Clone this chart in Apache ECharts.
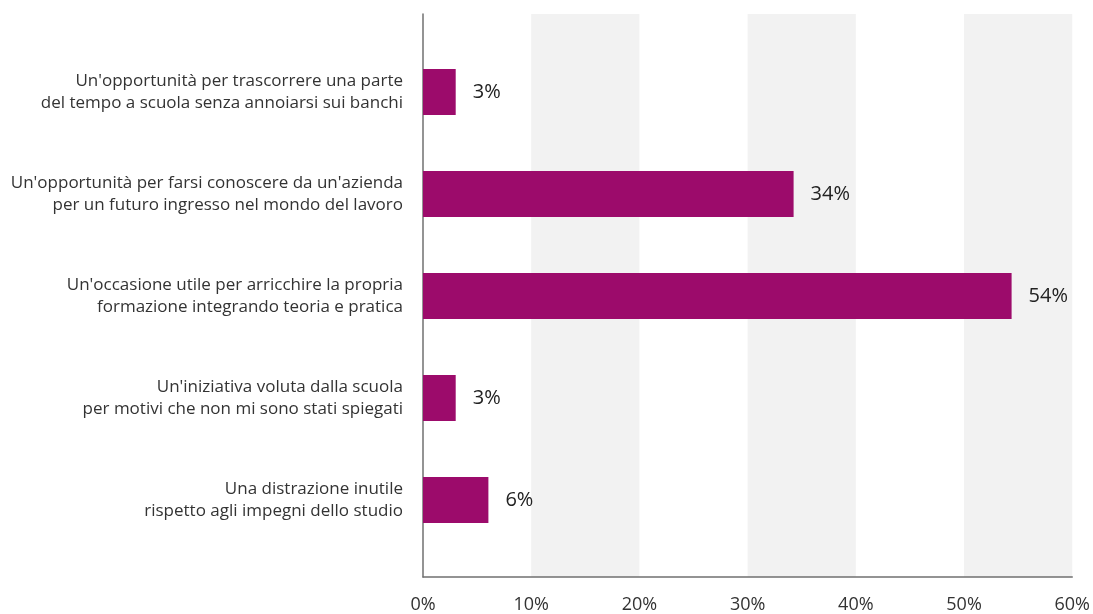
<!DOCTYPE html>
<html>
<head>
<meta charset="utf-8">
<script src="https://cdn.jsdelivr.net/npm/echarts@6/dist/echarts.min.js"></script>
<style>
  html, body { margin: 0; padding: 0; background: #fff; }
  #chart { width: 1093px; height: 614px; }
</style>
</head>
<body>
<div id="chart"></div>
<script>
// Answer options, top to bottom
const categories = [
  "Un'opportunità per trascorrere una parte\ndel tempo a scuola senza annoiarsi sui banchi",
  "Un'opportunità per farsi conoscere da un'azienda\nper un futuro ingresso nel mondo del lavoro",
  "Un'occasione utile per arricchire la propria\nformazione integrando teoria e pratica",
  "Un'iniziativa voluta dalla scuola\nper motivi che non mi sono stati spiegati",
  "Una distrazione inutile\nrispetto agli impegni dello studio"
];
// Share of respondents (%)
const values = [3, 34, 54, 3, 6];
// X axis ticks (%)
const xTicks = [0, 10, 20, 30, 40, 50, 60];

const FONT = "'Open Sans', 'Noto Sans', sans-serif";
const chart = echarts.init(document.getElementById('chart'));

chart.setOption({
  animation: false,
  backgroundColor: '#ffffff',
  grid: [
    // frame: axes and shaded bands
    { left: 423, right: 16, top: 14, bottom: 36, containLabel: false },
    // bars
    { left: 423, right: 16, top: 41, height: 510, containLabel: false }
  ],
  xAxis: [
    {
      gridIndex: 0, type: 'value',
      min: xTicks[0], max: xTicks[xTicks.length - 1], interval: 10,
      axisLine: { show: true, lineStyle: { color: '#707070', width: 1.5 } },
      axisTick: { show: false },
      splitLine: { show: false },
      splitArea: { show: true, areaStyle: { color: ['rgba(255,255,255,0)', '#f2f2f2'] } },
      axisLabel: {
        margin: 19, color: '#333', fontSize: 18, fontFamily: FONT,
        formatter: v => v + '%'
      }
    },
    {
      gridIndex: 1, type: 'value', min: 0, max: 60, show: false
    }
  ],
  yAxis: [
    {
      gridIndex: 0, type: 'value', min: 0, max: 1,
      axisLine: { show: true, lineStyle: { color: '#707070', width: 1.5 } },
      axisTick: { show: false }, axisLabel: { show: false },
      splitLine: { show: false }
    },
    {
      gridIndex: 1, type: 'category', inverse: true, data: categories,
      axisLine: { show: false }, axisTick: { show: false },
      axisLabel: {
        margin: 20, color: '#333', fontSize: 17, lineHeight: 22,
        fontFamily: FONT, align: 'right'
      }
    }
  ],
  series: [{
    type: 'bar',
    xAxisIndex: 1, yAxisIndex: 1,
    data: values,
    barWidth: 46,
    itemStyle: { color: '#9c0b6b' },
    label: {
      show: true, position: 'right', distance: 17,
      color: '#222', fontSize: 20, fontFamily: FONT,
      formatter: p => p.value + '%'
    }
  }]
});
</script>
</body>
</html>
